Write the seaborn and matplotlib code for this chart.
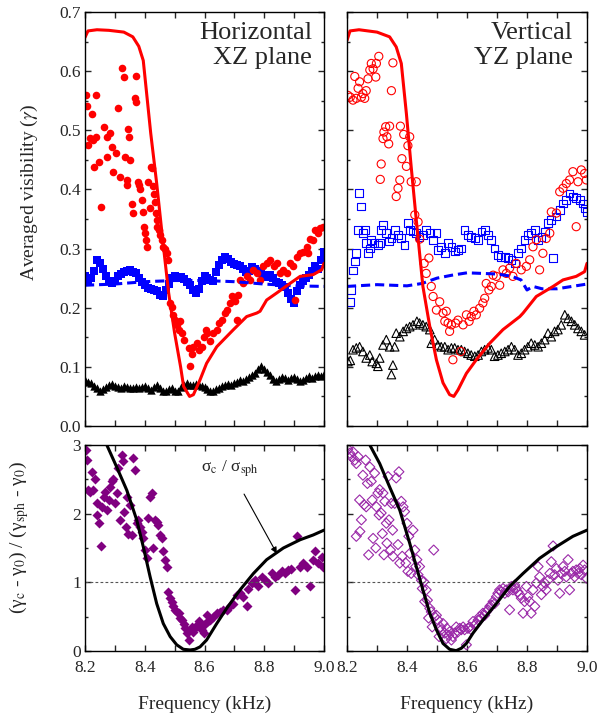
"""
Averaged visibility vs frequency, horizontal (XZ) and vertical (YZ) planes
"""
import numpy as np
import pandas as pd
import matplotlib
matplotlib.use('Agg')
import matplotlib.pyplot as plt
import seaborn as sns
from matplotlib.ticker import MultipleLocator

# ---------------------------------------------------------------- data
# horizontal (XZ) plane, measured visibility (filled red circles)
xz_red_f = [8.203, 8.208, 8.222, 8.238, 8.211, 8.217, 8.228, 8.231, 8.238, 8.247,
            8.253, 8.264, 8.272, 8.272, 8.283, 8.289, 8.295, 8.304, 8.312, 8.317,
            8.325, 8.329, 8.334, 8.340, 8.342, 8.345, 8.348, 8.352, 8.356, 8.362,
            8.367, 8.371, 8.371, 8.376, 8.382, 8.384, 8.390, 8.393, 8.397, 8.401,
            8.404, 8.406, 8.412, 8.418, 8.420, 8.423, 8.429, 8.431, 8.435, 8.438,
            8.440, 8.442, 8.449, 8.451, 8.457, 8.462, 8.468, 8.473, 8.479, 8.485,
            8.490, 8.496, 8.502, 8.507, 8.513, 8.519, 8.524, 8.530, 8.547, 8.552,
            8.558, 8.563, 8.574, 8.580, 8.591, 8.599, 8.606, 8.608, 8.619, 8.630,
            8.641, 8.647, 8.658, 8.670, 8.675, 8.686, 8.692, 8.703, 8.708, 8.711,
            8.719, 8.730, 8.741, 8.752, 8.764, 8.775, 8.786, 8.797, 8.808, 8.819,
            8.831, 8.842, 8.853, 8.864, 8.875, 8.886, 8.897, 8.903, 8.908, 8.920,
            8.931, 8.942, 8.947, 8.953, 8.964, 8.970, 8.981, 8.986, 8.995]
xz_red_v = [0.559, 0.541, 0.527, 0.559, 0.475, 0.487, 0.483, 0.438, 0.489, 0.447,
            0.370, 0.506, 0.489, 0.455, 0.495, 0.472, 0.430, 0.461, 0.537, 0.421,
            0.605, 0.590, 0.455, 0.416, 0.407, 0.503, 0.488, 0.450, 0.376, 0.360,
            0.554, 0.547, 0.591, 0.413, 0.407, 0.400, 0.382, 0.362, 0.337, 0.326,
            0.315, 0.303, 0.413, 0.368, 0.438, 0.436, 0.405, 0.393, 0.379, 0.360,
            0.348, 0.337, 0.331, 0.323, 0.315, 0.303, 0.300, 0.292, 0.281, 0.208,
            0.202, 0.188, 0.179, 0.171, 0.163, 0.177, 0.157, 0.146, 0.132, 0.101,
            0.121, 0.134, 0.140, 0.129, 0.134, 0.151, 0.163, 0.157, 0.143, 0.157,
            0.163, 0.174, 0.179, 0.191, 0.196, 0.208, 0.219, 0.211, 0.179, 0.222,
            0.247, 0.241, 0.253, 0.247, 0.264, 0.258, 0.247, 0.270, 0.275, 0.281,
            0.270, 0.275, 0.258, 0.264, 0.258, 0.275, 0.270, 0.213, 0.286, 0.292,
            0.295, 0.303, 0.292, 0.317, 0.315, 0.331, 0.326, 0.334, 0.337]

# model curve (red line)
xz_fit_f = [8.200, 8.210, 8.240, 8.280, 8.330, 8.360, 8.380, 8.395, 8.420, 8.440,
            8.460, 8.480, 8.500, 8.520, 8.530, 8.550, 8.563, 8.585, 8.607, 8.641,
            8.697, 8.741, 8.775, 8.786, 8.808, 8.842, 8.886, 8.920, 8.964, 8.992, 9.000]
xz_fit_v = [0.657, 0.668, 0.670, 0.669, 0.666, 0.658, 0.642, 0.618, 0.495, 0.410,
            0.315, 0.225, 0.157, 0.100, 0.067, 0.050, 0.053, 0.078, 0.106, 0.134,
            0.163, 0.185, 0.191, 0.194, 0.213, 0.225, 0.241, 0.253, 0.256, 0.264, 0.275]

freq_grid = [8.20, 8.21, 8.22, 8.23, 8.24, 8.25, 8.26, 8.27, 8.28, 8.29,
             8.30, 8.31, 8.32, 8.33, 8.34, 8.35, 8.36, 8.37, 8.38, 8.39,
             8.40, 8.41, 8.42, 8.43, 8.44, 8.45, 8.46, 8.47, 8.48, 8.49,
             8.50, 8.51, 8.52, 8.53, 8.54, 8.55, 8.56, 8.57, 8.58, 8.59,
             8.60, 8.61, 8.62, 8.63, 8.64, 8.65, 8.66, 8.67, 8.68, 8.69,
             8.70, 8.71, 8.72, 8.73, 8.74, 8.75, 8.76, 8.77, 8.78, 8.79,
             8.80, 8.81, 8.82, 8.83, 8.84, 8.85, 8.86, 8.87, 8.88, 8.89,
             8.90, 8.91, 8.92, 8.93, 8.94, 8.95, 8.96, 8.97, 8.98, 8.99, 9.00]

# blue filled squares
xz_blue_v = [0.253, 0.247, 0.250, 0.262, 0.281, 0.276, 0.265, 0.253, 0.245, 0.241,
             0.246, 0.253, 0.257, 0.261, 0.262, 0.264, 0.260, 0.258, 0.250, 0.244,
             0.238, 0.234, 0.232, 0.230, 0.228, 0.222, 0.219, 0.230, 0.240, 0.250,
             0.253, 0.250, 0.252, 0.248, 0.244, 0.238, 0.230, 0.225, 0.232, 0.245,
             0.253, 0.250, 0.247, 0.245, 0.260, 0.272, 0.281, 0.286, 0.283, 0.278,
             0.274, 0.272, 0.270, 0.265, 0.260, 0.262, 0.268, 0.265, 0.262, 0.258,
             0.255, 0.252, 0.256, 0.250, 0.244, 0.241, 0.238, 0.235, 0.225, 0.215,
             0.208, 0.228, 0.238, 0.245, 0.250, 0.255, 0.262, 0.270, 0.266, 0.280, 0.295]

# black filled triangles
xz_black_v = [0.078, 0.075, 0.072, 0.068, 0.064, 0.060, 0.062, 0.066, 0.069, 0.071,
              0.068, 0.066, 0.065, 0.067, 0.066, 0.064, 0.065, 0.066, 0.065, 0.066,
              0.067, 0.064, 0.061, 0.066, 0.069, 0.064, 0.060, 0.059, 0.062, 0.064,
              0.059, 0.060, 0.066, 0.070, 0.072, 0.070, 0.069, 0.071, 0.070, 0.068,
              0.066, 0.062, 0.059, 0.060, 0.062, 0.065, 0.068, 0.070, 0.071, 0.070,
              0.072, 0.075, 0.078, 0.076, 0.080, 0.083, 0.086, 0.090, 0.096, 0.101,
              0.097, 0.092, 0.086, 0.080, 0.076, 0.080, 0.083, 0.082, 0.078, 0.081,
              0.083, 0.079, 0.076, 0.078, 0.082, 0.084, 0.081, 0.084, 0.087, 0.085, 0.088]

# blue dashed reference
xz_bdash_f = [8.20, 8.30, 8.40, 8.50, 8.60, 8.70, 8.80, 8.90, 9.00]
xz_bdash_v = [0.238, 0.240, 0.244, 0.246, 0.246, 0.244, 0.240, 0.237, 0.236]

# vertical (YZ) plane, open red circles
yz_red_f = [8.203, 8.211, 8.220, 8.226, 8.231, 8.237, 8.242, 8.248, 8.253, 8.259,
            8.264, 8.270, 8.276, 8.281, 8.287, 8.296, 8.298, 8.306, 8.311, 8.314,
            8.320, 8.323, 8.329, 8.333, 8.339, 8.342, 8.348, 8.353, 8.364, 8.370,
            8.376, 8.378, 8.383, 8.389, 8.398, 8.403, 8.409, 8.414, 8.426, 8.431,
            8.437, 8.442, 8.457, 8.464, 8.473, 8.481, 8.487, 8.498, 8.509, 8.520,
            8.526, 8.531, 8.537, 8.542, 8.548, 8.553, 8.562, 8.570, 8.579, 8.587,
            8.598, 8.607, 8.614, 8.623, 8.631, 8.642, 8.653, 8.659, 8.664, 8.673,
            8.681, 8.687, 8.698, 8.709, 8.720, 8.731, 8.742, 8.753, 8.764, 8.781,
            8.798, 8.809, 8.820, 8.831, 8.842, 8.853, 8.864, 8.876, 8.881, 8.898,
            8.909, 8.920, 8.931, 8.942, 8.953, 8.964, 8.970, 8.981, 8.992, 8.998]
yz_red_v = [0.559, 0.556, 0.551, 0.591, 0.554, 0.571, 0.582, 0.556, 0.562, 0.554,
            0.567, 0.587, 0.602, 0.613, 0.604, 0.590, 0.613, 0.625, 0.417, 0.443,
            0.486, 0.497, 0.506, 0.489, 0.477, 0.507, 0.567, 0.614, 0.388, 0.402,
            0.416, 0.507, 0.452, 0.493, 0.439, 0.474, 0.489, 0.413, 0.357, 0.413,
            0.345, 0.316, 0.275, 0.258, 0.284, 0.236, 0.219, 0.196, 0.210, 0.191,
            0.177, 0.194, 0.174, 0.160, 0.171, 0.112, 0.174, 0.179, 0.126, 0.171,
            0.188, 0.177, 0.185, 0.194, 0.188, 0.199, 0.208, 0.216, 0.241, 0.230,
            0.236, 0.255, 0.253, 0.238, 0.264, 0.258, 0.267, 0.253, 0.275, 0.264,
            0.270, 0.281, 0.303, 0.315, 0.264, 0.292, 0.317, 0.326, 0.362, 0.360,
            0.396, 0.402, 0.410, 0.416, 0.430, 0.337, 0.413, 0.433, 0.427, 0.416]

yz_fit_f = [8.200, 8.210, 8.240, 8.300, 8.342, 8.364, 8.381, 8.398, 8.414, 8.431,
            8.453, 8.476, 8.498, 8.520, 8.542, 8.556, 8.570, 8.598, 8.631, 8.676,
            8.720, 8.776, 8.787, 8.831, 8.887, 8.920, 8.964, 8.992, 9.000]
yz_fit_v = [0.652, 0.668, 0.670, 0.666, 0.658, 0.641, 0.613, 0.528, 0.438, 0.348,
            0.236, 0.168, 0.112, 0.073, 0.053, 0.050, 0.061, 0.089, 0.112, 0.140,
            0.163, 0.185, 0.191, 0.219, 0.236, 0.247, 0.253, 0.261, 0.275]

# open blue squares
yz_blue_f = [8.209, 8.214, 8.220, 8.226, 8.231, 8.237, 8.240, 8.246, 8.253, 8.259,
             8.264, 8.270, 8.276, 8.281, 8.292, 8.303, 8.309, 8.314, 8.320, 8.331,
             8.340, 8.348, 8.359, 8.370, 8.381, 8.392, 8.403, 8.409, 8.420, 8.431,
             8.442, 8.453, 8.464, 8.476, 8.487, 8.498, 8.503, 8.514, 8.526, 8.537,
             8.548, 8.559, 8.570, 8.581, 8.592, 8.603, 8.614, 8.626, 8.637, 8.648,
             8.659, 8.670, 8.681, 8.692, 8.703, 8.714, 8.726, 8.737, 8.748, 8.759,
             8.770, 8.781, 8.792, 8.803, 8.814, 8.826, 8.837, 8.848, 8.859, 8.870,
             8.881, 8.887, 8.898, 8.909, 8.920, 8.931, 8.942, 8.953, 8.964, 8.976,
             8.987, 8.992, 8.998]
yz_blue_v = [0.210, 0.230, 0.263, 0.278, 0.292, 0.331, 0.394, 0.371, 0.326, 0.331,
             0.309, 0.292, 0.300, 0.315, 0.309, 0.306, 0.309, 0.331, 0.340, 0.326,
             0.312, 0.318, 0.331, 0.323, 0.318, 0.306, 0.343, 0.331, 0.329, 0.326,
             0.320, 0.323, 0.331, 0.326, 0.315, 0.326, 0.298, 0.303, 0.292, 0.309,
             0.303, 0.295, 0.298, 0.300, 0.331, 0.323, 0.320, 0.318, 0.315, 0.329,
             0.331, 0.323, 0.315, 0.300, 0.289, 0.286, 0.286, 0.284, 0.281, 0.275,
             0.292, 0.300, 0.315, 0.323, 0.326, 0.331, 0.315, 0.320, 0.329, 0.343,
             0.348, 0.284, 0.354, 0.365, 0.376, 0.382, 0.393, 0.388, 0.385, 0.382,
             0.376, 0.368, 0.362]

yz_bdash_f = [8.20, 8.30, 8.40, 8.45, 8.50, 8.55, 8.60, 8.65, 8.70, 8.75,
              8.78, 8.80, 8.82, 8.85, 8.90, 8.95, 9.00]
yz_bdash_v = [0.236, 0.239, 0.237, 0.241, 0.250, 0.255, 0.259, 0.258, 0.257, 0.253,
              0.247, 0.230, 0.236, 0.232, 0.232, 0.236, 0.240]

# open black triangles
yz_black_f = [8.203, 8.211, 8.220, 8.231, 8.242, 8.253, 8.264, 8.276, 8.284, 8.298,
              8.303, 8.309, 8.320, 8.331, 8.342, 8.348, 8.353, 8.359, 8.364, 8.376,
              8.387, 8.398, 8.409, 8.420, 8.433, 8.442, 8.453, 8.464, 8.476, 8.481,
              8.492, 8.503, 8.514, 8.526, 8.537, 8.548, 8.559, 8.570, 8.581, 8.592,
              8.603, 8.614, 8.626, 8.637, 8.648, 8.659, 8.670, 8.681, 8.692, 8.703,
              8.714, 8.726, 8.737, 8.748, 8.759, 8.770, 8.781, 8.792, 8.803, 8.814,
              8.826, 8.837, 8.848, 8.859, 8.870, 8.881, 8.892, 8.903, 8.914, 8.926,
              8.937, 8.948, 8.959, 8.970, 8.981, 8.992]
yz_black_v = [0.109, 0.111, 0.129, 0.132, 0.134, 0.126, 0.115, 0.120, 0.109, 0.106,
              0.101, 0.115, 0.137, 0.146, 0.134, 0.087, 0.103, 0.134, 0.157, 0.151,
              0.160, 0.165, 0.168, 0.171, 0.177, 0.174, 0.171, 0.168, 0.163, 0.140,
              0.146, 0.137, 0.134, 0.134, 0.129, 0.132, 0.132, 0.129, 0.129, 0.126,
              0.123, 0.120, 0.118, 0.120, 0.126, 0.129, 0.132, 0.129, 0.118, 0.120,
              0.123, 0.126, 0.129, 0.134, 0.129, 0.120, 0.123, 0.129, 0.134, 0.140,
              0.137, 0.134, 0.140, 0.146, 0.157, 0.151, 0.160, 0.163, 0.171, 0.188,
              0.182, 0.177, 0.171, 0.165, 0.160, 0.154]

# normalised ratio, horizontal plane (filled diamonds)
xz_ratio_f = [8.203, 8.208, 8.211, 8.217, 8.222, 8.228, 8.234, 8.239, 8.241, 8.248,
              8.252, 8.256, 8.262, 8.267, 8.273, 8.279, 8.284, 8.290, 8.295, 8.301,
              8.306, 8.312, 8.317, 8.323, 8.326, 8.331, 8.337, 8.342, 8.345, 8.351,
              8.357, 8.362, 8.368, 8.373, 8.379, 8.384, 8.390, 8.395, 8.401, 8.406,
              8.412, 8.418, 8.423, 8.429, 8.435, 8.440, 8.446, 8.451, 8.457, 8.462,
              8.468, 8.473, 8.479, 8.485, 8.490, 8.496, 8.502, 8.507, 8.513, 8.519,
              8.524, 8.530, 8.535, 8.541, 8.547, 8.552, 8.558, 8.563, 8.569, 8.574,
              8.580, 8.585, 8.591, 8.597, 8.602, 8.608, 8.613, 8.619, 8.630, 8.641,
              8.652, 8.663, 8.674, 8.685, 8.697, 8.708, 8.719, 8.730, 8.741, 8.747,
              8.758, 8.769, 8.780, 8.792, 8.803, 8.814, 8.825, 8.836, 8.847, 8.858,
              8.869, 8.880, 8.891, 8.903, 8.908, 8.920, 8.931, 8.942, 8.953, 8.964,
              8.969, 8.981, 8.992, 8.997]
xz_ratio_v = [2.93, 2.78, 2.34, 2.32, 2.60, 2.34, 2.51, 2.15, 1.98, 1.86,
              1.53, 2.10, 2.25, 2.32, 2.05, 2.20, 2.39, 2.47, 2.51, 2.15,
              2.30, 2.66, 1.91, 2.86, 2.76, 2.03, 1.81, 2.25, 1.71, 2.12,
              1.69, 2.81, 2.64, 1.86, 1.91, 1.81, 1.74, 1.64, 1.47, 1.35,
              1.93, 2.25, 2.30, 1.50, 1.91, 1.88, 1.83, 1.69, 1.64, 1.45,
              1.33, 1.23, 0.86, 0.77, 0.72, 0.65, 0.60, 0.57, 0.55, 0.48,
              0.45, 0.40, 0.33, 0.26, 0.16, 0.31, 0.35, 0.28, 0.33, 0.38,
              0.43, 0.35, 0.31, 0.26, 0.40, 0.52, 0.43, 0.45, 0.50, 0.55,
              0.57, 0.60, 0.60, 0.65, 0.69, 0.82, 0.84, 0.79, 0.65, 0.91,
              0.99, 1.03, 0.94, 1.08, 1.03, 0.99, 1.13, 1.08, 1.11, 1.16,
              1.13, 1.18, 1.20, 0.89, 1.67, 1.23, 1.28, 1.23, 0.94, 1.33,
              1.45, 1.28, 1.37, 1.23]

xz_sigma_f = [8.273, 8.306, 8.340, 8.373, 8.395, 8.418, 8.440, 8.462, 8.485, 8.507,
              8.529, 8.552, 8.568, 8.585, 8.607, 8.641, 8.674, 8.719, 8.764, 8.808,
              8.864, 8.920, 8.964, 9.000]
xz_sigma_v = [3.00, 2.68, 2.34, 1.91, 1.52, 1.08, 0.69, 0.40, 0.21, 0.09,
              0.025, 0.015, 0.025, 0.06, 0.16, 0.40, 0.62, 0.89, 1.13, 1.33,
              1.50, 1.62, 1.69, 1.76]

# normalised ratio, vertical plane (open diamonds)
yz_ratio_f = [8.203, 8.209, 8.214, 8.220, 8.226, 8.231, 8.237, 8.242, 8.248, 8.231,
              8.243, 8.253, 8.257, 8.262, 8.264, 8.268, 8.272, 8.276, 8.281, 8.284,
              8.287, 8.292, 8.296, 8.298, 8.303, 8.307, 8.309, 8.314, 8.318, 8.320,
              8.323, 8.326, 8.331, 8.333, 8.337, 8.340, 8.345, 8.348, 8.352, 8.353,
              8.359, 8.364, 8.370, 8.373, 8.376, 8.381, 8.384, 8.387, 8.392, 8.396,
              8.400, 8.403, 8.406, 8.409, 8.414, 8.420, 8.426, 8.429, 8.433, 8.437,
              8.442, 8.448, 8.451, 8.456, 8.459, 8.464, 8.468, 8.472, 8.476, 8.481,
              8.484, 8.489, 8.492, 8.498, 8.503, 8.507, 8.511, 8.514, 8.520, 8.526,
              8.531, 8.533, 8.539, 8.542, 8.548, 8.553, 8.559, 8.564, 8.570, 8.576,
              8.581, 8.587, 8.592, 8.598, 8.603, 8.609, 8.614, 8.620, 8.626, 8.631,
              8.637, 8.642, 8.648, 8.653, 8.659, 8.664, 8.670, 8.676, 8.681, 8.687,
              8.692, 8.698, 8.703, 8.709, 8.714, 8.720, 8.726, 8.731, 8.737, 8.742,
              8.748, 8.753, 8.759, 8.764, 8.770, 8.776, 8.781, 8.787, 8.792, 8.798,
              8.803, 8.809, 8.814, 8.820, 8.826, 8.831, 8.837, 8.842, 8.848, 8.853,
              8.859, 8.864, 8.870, 8.876, 8.881, 8.887, 8.892, 8.898, 8.903, 8.909,
              8.914, 8.920, 8.926, 8.931, 8.937, 8.942, 8.948, 8.953, 8.959, 8.964,
              8.970, 8.976, 8.981, 8.987, 8.992, 8.998]
yz_ratio_v = [2.94, 2.88, 2.83, 2.90, 2.78, 2.73, 2.83, 2.20, 1.91, 1.67,
              1.74, 2.56, 2.13, 2.78, 2.10, 2.44, 1.40, 2.68, 2.47, 2.20,
              1.64, 2.59, 1.50, 2.10, 2.30, 1.98, 2.35, 2.01, 1.71, 2.30,
              1.40, 2.18, 1.86, 1.57, 2.54, 1.91, 1.47, 2.15, 1.76, 1.38,
              2.15, 2.52, 1.55, 2.61, 1.28, 2.18, 1.38, 2.10, 2.03, 1.28,
              1.86, 1.16, 1.67, 1.42, 1.13, 1.76, 1.47, 1.23, 1.33, 1.11,
              1.23, 1.03, 0.91, 1.01, 0.72, 0.89, 0.74, 0.48, 0.62, 0.57,
              0.35, 1.47, 0.50, 0.52, 0.45, 0.21, 0.35, 0.31, 0.40, 0.26,
              0.18, 0.33, 0.23, 0.28, 0.16, 0.21, 0.26, 0.35, 0.28, 0.33,
              0.31, 0.35, 0.31, 0.09, 0.33, 0.35, 0.31, 0.43, 0.38, 0.40,
              0.45, 0.50, 0.48, 0.55, 0.52, 0.57, 0.60, 0.65, 0.67, 0.72,
              0.69, 0.79, 0.84, 0.89, 0.86, 0.91, 0.84, 0.89, 0.86, 0.60,
              0.94, 0.89, 0.96, 0.91, 0.86, 0.82, 0.77, 0.55, 0.72, 0.94,
              0.79, 0.72, 0.55, 0.89, 0.65, 0.99, 1.23, 1.08, 0.82, 0.94,
              0.99, 0.89, 1.03, 1.13, 1.30, 1.53, 1.11, 1.20, 1.03, 0.84,
              1.13, 1.23, 1.16, 1.08, 1.33, 0.89, 1.13, 1.16, 1.08, 1.18,
              1.13, 1.20, 1.11, 1.25, 1.18, 1.06]

yz_sigma_f = [8.276, 8.309, 8.342, 8.376, 8.409, 8.431, 8.453, 8.476, 8.498, 8.520,
              8.542, 8.564, 8.581, 8.598, 8.620, 8.653, 8.698, 8.742, 8.787, 8.842,
              8.898, 8.953, 9.000]
yz_sigma_v = [3.00, 2.73, 2.39, 2.05, 1.57, 1.23, 0.89, 0.55, 0.31, 0.11,
              0.025, 0.005, 0.04, 0.11, 0.26, 0.45, 0.69, 0.94, 1.13, 1.35,
              1.52, 1.67, 1.76]

RED = '#ff0000'
BLUE = '#0000ff'
PURPLE = '#800080'
OPEN_PURPLE = '#9a28a8'

# ---------------------------------------------------------------- style
sns.set_style('ticks')
plt.rcParams['font.family'] = ['Liberation Serif', 'DejaVu Serif']
plt.rcParams['mathtext.fontset'] = 'stix'
plt.rcParams['axes.linewidth'] = 1.0
plt.rcParams['xtick.direction'] = 'in'
plt.rcParams['ytick.direction'] = 'in'


def scatter(ax, x, y, marker, color, s, hollow=False):
    """Draw one marker series, filled or open"""
    sns.scatterplot(x=x, y=y, ax=ax, marker=marker, color=color, s=s,
                    linewidth=0 if not hollow else 0.8, edgecolor=color, legend=False)
    pc = ax.collections[-1]
    if hollow:
        pc.set_facecolor('none')
        pc.set_edgecolor(color)
    return pc


def line(ax, x, y, color, lw, ls='-'):
    sns.lineplot(x=x, y=y, ax=ax, color=color, lw=lw, linestyle=ls,
                 sort=False, estimator=None, legend=False)


def style_axes(ax, top=True):
    ax.set_xlim(8.2, 9.0)
    ax.xaxis.set_major_locator(MultipleLocator(0.2))
    ax.xaxis.set_minor_locator(MultipleLocator(0.1))
    if top:
        ax.set_ylim(0.0, 0.7)
        ax.yaxis.set_major_locator(MultipleLocator(0.1))
        ax.yaxis.set_minor_locator(MultipleLocator(0.05))
    else:
        ax.set_ylim(0, 3)
        ax.yaxis.set_major_locator(MultipleLocator(1))
        ax.yaxis.set_minor_locator(MultipleLocator(0.5))
    ax.tick_params(which='both', top=True, right=True, labelsize=12.5,
                   width=1.0, pad=3)
    ax.tick_params(axis='x', which='major', pad=6.5)
    ax.tick_params(which='major', length=4)
    ax.tick_params(which='minor', length=2.5)
    ax.tick_params(axis='x', which='minor', length=4)
    for sp in ax.spines.values():
        sp.set_color('black')
        sp.set_linewidth(1.0)


fig = plt.figure(figsize=(6.11, 7.17), dpi=100)
W, H = 611.0, 717.0
ax_tl = fig.add_axes([85 / W, 1 - 426 / H, 239 / W, 414 / H])
ax_tr = fig.add_axes([347 / W, 1 - 426 / H, 240 / W, 414 / H])
ax_bl = fig.add_axes([85 / W, 1 - 651 / H, 239 / W, 206 / H])
ax_br = fig.add_axes([347 / W, 1 - 651 / H, 240 / W, 206 / H])

# --- top left: horizontal XZ plane
scatter(ax_tl, freq_grid, xz_blue_v, 's', BLUE, 28)
line(ax_tl, xz_bdash_f, xz_bdash_v, BLUE, 2.2, (0, (3, 1.6)))
scatter(ax_tl, freq_grid, xz_black_v, '^', 'black', 36)
scatter(ax_tl, xz_red_f, xz_red_v, 'o', RED, 30)
line(ax_tl, xz_fit_f, xz_fit_v, RED, 2.2)
ax_tl.text(0.95, 0.975, 'Horizontal\nXZ plane', transform=ax_tl.transAxes,
           ha='right', va='top', fontsize=19, linespacing=1.15)

# --- top right: vertical YZ plane
scatter(ax_tr, yz_black_f, yz_black_v, '^', 'black', 38, hollow=True)
scatter(ax_tr, yz_blue_f, yz_blue_v, 's', BLUE, 30, hollow=True)
line(ax_tr, yz_bdash_f, yz_bdash_v, BLUE, 2.2, (0, (3, 1.6)))
scatter(ax_tr, yz_red_f, yz_red_v, 'o', RED, 34, hollow=True)
line(ax_tr, yz_fit_f, yz_fit_v, RED, 2.2)
ax_tr.text(0.94, 0.975, 'Vertical\nYZ plane', transform=ax_tr.transAxes,
           ha='right', va='top', fontsize=19, linespacing=1.15)

# --- bottom left
ax_bl.axhline(1.0, color='#555555', lw=0.8, ls=(0, (2.5, 2)))
scatter(ax_bl, xz_ratio_f, xz_ratio_v, 'D', PURPLE, 26)
line(ax_bl, xz_sigma_f, xz_sigma_v, 'black', 2.2)
ax_bl.annotate('σ$_{\\rm c}$ / σ$_{\\rm sph}$', xy=(8.842, 1.42), xytext=(8.685, 2.66),
               ha='center', va='center', fontsize=12.5,
               arrowprops=dict(arrowstyle='-|>', color='black', lw=0.8,
                               mutation_scale=9, shrinkA=10, shrinkB=0))

# --- bottom right
ax_br.axhline(1.0, color='#555555', lw=0.8, ls=(0, (2.5, 2)))
scatter(ax_br, yz_ratio_f, yz_ratio_v, 'D', OPEN_PURPLE, 26, hollow=True)
line(ax_br, yz_sigma_f, yz_sigma_v, 'black', 2.2)

for ax in (ax_tl, ax_tr):
    style_axes(ax, top=True)
    ax.set_xticklabels([])
for ax in (ax_bl, ax_br):
    style_axes(ax, top=False)
    ax.set_xlabel('Frequency (kHz)', fontsize=14, labelpad=14)
ax_tr.set_yticklabels([])
ax_br.set_yticklabels([])
ax_bl.set_xticks([8.2, 8.4, 8.6, 8.8, 9.0])
ax_bl.set_xticklabels(['8.2', '8.4', '8.6', '8.8', '9.0'])
ax_br.set_xticks([8.2, 8.4, 8.6, 8.8, 9.0])
ax_br.set_xticklabels(['8.2', '8.4', '8.6', '8.8', '9.0'])
ax_bl.set_yticks([0, 1, 2, 3])
ax_bl.set_yticklabels(['0', '1', '2', '3'])

ax_tl.set_ylabel(r'Averaged visibility ($\gamma$)', fontsize=14)
ax_tl.yaxis.set_label_coords(-0.19, 0.563)
ax_bl.set_ylabel('(γ$_{\\rm c}$ - γ$_0$) / (γ$_{\\rm sph}$ - γ$_0$)', fontsize=14)
ax_bl.yaxis.set_label_coords(-0.225, 0.55)
for ax in (ax_tr, ax_br):
    ax.set_ylabel('')
ax_tl.set_xlabel('')
ax_tr.set_xlabel('')

fig.savefig('out.png', dpi=100)
